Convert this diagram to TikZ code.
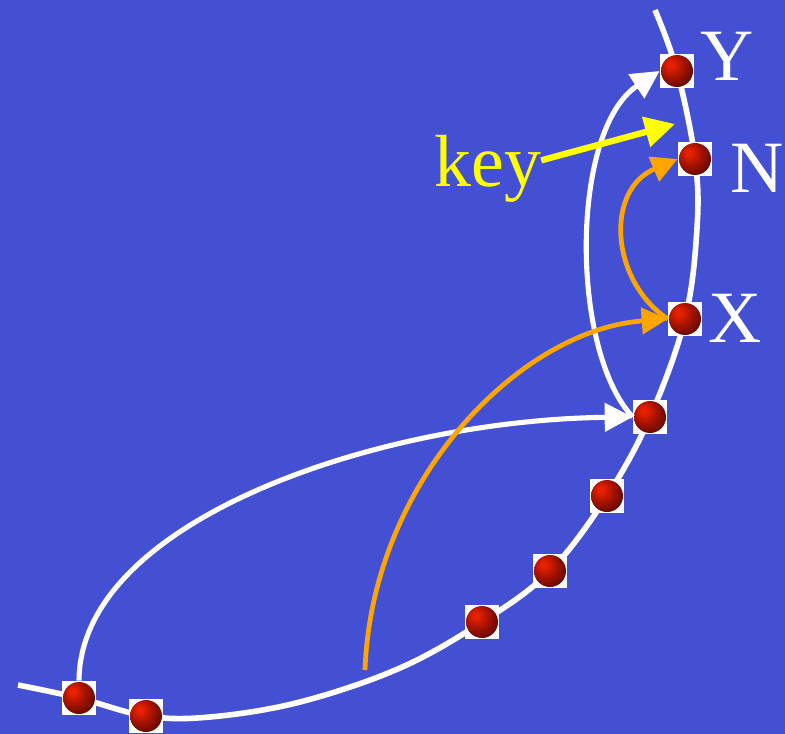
\documentclass[tikz,border=0pt]{standalone}
\usepackage{fontspec}
\setmainfont{Liberation Serif}
\usetikzlibrary{arrows.meta,backgrounds}
\definecolor{chordbg}{HTML}{4450D4}
\definecolor{keyyel}{HTML}{FFFF00}
\definecolor{hopor}{HTML}{FFA500}
\definecolor{beadhi}{HTML}{E82000}
\definecolor{beadmid}{HTML}{A01200}
\definecolor{beaddark}{HTML}{4A0600}
\pgfdeclareradialshading{redbead}{\pgfqpoint{-10bp}{10bp}}{color(0bp)=(beadhi); color(4bp)=(beadhi); color(18bp)=(beadmid); color(36bp)=(beaddark); color(50bp)=(black); color(70bp)=(black)}
\tikzset{
  ring/.style={line width=3.2pt,white},
  finger/.style={-{Triangle[length=0.56cm,width=0.56cm]},line width=2.9pt,white},
  query/.style={-{Triangle[length=0.52cm,width=0.52cm]},line width=2.7pt,hopor},
  keyarrow/.style={-{Triangle[length=0.6cm,width=0.6cm]},line width=3.6pt,keyyel},
  bead/.style={rectangle,fill=white,inner sep=0pt,minimum size=0.68cm,
    path picture={\shade[shading=redbead] (path picture bounding box.center) circle (0.32cm);}},
  idtext/.style={font=\fontsize{42}{42}\selectfont,text=white,inner sep=0pt,anchor=base west}
}

\begin{document}
\begin{tikzpicture}[x=0.02cm,y=-0.02cm]
\useasboundingbox (0,0) rectangle (785,734);
\node[bead] (y) at (677,71) {};
\node[bead] (n) at (695,159) {};
\node[bead] (x) at (685,319) {};
\node[bead] (b4) at (650,417) {};
\node[bead] (b5) at (607,496) {};
\node[bead] (b6) at (550,571) {};
\node[bead] (b7) at (482,622) {};
\node[bead] (b8) at (79,698) {};
\node[bead] (b9) at (146,716) {};
\node[idtext] (ylbl) at (700,80) {Y};
\node[idtext] (nlbl) at (730,192) {N};
\node[idtext] (xlbl) at (708,342) {X};
\node[idtext,text=keyyel] (key) at (434,186) {key};
\coordinate (ringa) at (18,685);
\coordinate (ringb) at (210,717);
\coordinate (ringc) at (300,702);
\coordinate (ringd) at (400,668);
\coordinate (ringe) at (697,228);
\coordinate (ringf) at (655,10);
\coordinate (lookup) at (365,670);
\coordinate (keytip) at (675,124);
\begin{scope}[on background layer]
\fill[chordbg] (0,0) rectangle (785,734);
\draw[ring] plot[smooth,tension=0.6] coordinates {(ringa) (b8.center) (b9.center) (ringb) (ringc) (ringd) (b7.center) (b6.center) (b5.center) (b4.center) (x.center) (ringe) (n.center) (y.center) (ringf)};
\end{scope}
\draw[finger] (b8.north) .. controls (80,520) and (380,420) .. (b4.west);
\draw[finger] (b4.west) .. controls (570,350) and (570,130) .. (y.west);
\draw[query] (lookup) .. controls (372,480) and (520,330) .. (x.west);
\draw[query] (x.west) .. controls (610,280) and (605,190) .. (n.west);
\draw[keyarrow] ([yshift=0.16cm]key.east) -- (keytip);
\end{tikzpicture}
\end{document}
